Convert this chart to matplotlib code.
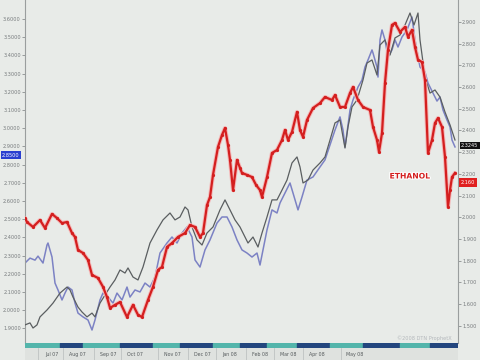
import numpy as np
import matplotlib
matplotlib.use("Agg")
import matplotlib.pyplot as plt
import matplotlib.transforms as mtransforms
import matplotlib.patheffects as pe
from matplotlib.ticker import FormatStrFormatter

# days since start of chart (approx 1 px per day)
red_x = [0, 2, 8, 15, 20, 27, 32, 37, 42, 47, 50, 53, 58, 63, 67, 73, 78, 82, 85, 90,
         95, 102, 108, 113, 117, 123, 128, 133, 137, 142, 147, 153, 160, 165, 170, 175,
         178, 182, 185, 188, 193, 197, 200, 203, 205, 208, 212, 215, 217, 222, 227, 231,
         235, 237, 242, 247, 252, 257, 260, 263, 267, 272, 275, 278, 282, 288, 295, 300,
         307, 310, 315, 320, 325, 328, 333, 338, 345, 348, 352, 354, 357, 360, 363, 367,
         370, 375, 380, 383, 387, 390, 393, 397, 400, 403, 407, 410, 413, 417, 420, 423,
         425, 427, 430]
red_y = [1.996, 1.978, 1.955, 1.987, 1.950, 2.015, 1.996, 1.973, 1.978, 1.927, 1.909,
         1.849, 1.835, 1.803, 1.734, 1.720, 1.679, 1.632, 1.582, 1.596, 1.609, 1.540,
         1.596, 1.550, 1.540, 1.619, 1.679, 1.757, 1.771, 1.863, 1.881, 1.909, 1.927,
         1.964, 1.955, 1.909, 1.927, 2.056, 2.093, 2.195, 2.324, 2.379, 2.411, 2.333,
         2.264, 2.125, 2.264, 2.227, 2.204, 2.195, 2.185, 2.149, 2.125, 2.093, 2.185,
         2.296, 2.310, 2.356, 2.402, 2.356, 2.393, 2.485, 2.402, 2.370, 2.448, 2.503,
         2.526, 2.554, 2.540, 2.563, 2.508, 2.508, 2.572, 2.600, 2.540, 2.508, 2.494,
         2.416, 2.356, 2.301, 2.388, 2.619, 2.771, 2.886, 2.895, 2.854, 2.877, 2.831,
         2.863, 2.784, 2.725, 2.715, 2.632, 2.296, 2.356, 2.434, 2.457, 2.416, 2.278,
         2.047, 2.125, 2.185, 2.204]

black_x = [0, 5, 8, 12, 15, 22, 28, 35, 42, 45, 48, 53, 57, 62, 67, 70, 75, 80, 85, 90,
           95, 100, 103, 108, 113, 118, 125, 132, 138, 145, 150, 155, 160, 163, 167, 172,
           177, 182, 188, 195, 200, 205, 210, 215, 220, 223, 228, 233, 237, 242, 247, 252,
           257, 262, 267, 272, 275, 278, 283, 288, 295, 300, 305, 310, 315, 318, 320, 323,
           327, 332, 338, 342, 347, 352, 355, 360, 365, 370, 375, 380, 385, 389, 393, 395,
           400, 405, 410, 415, 420, 425, 430]
black_y = [1.919, 1.930, 1.902, 1.919, 1.963, 2.001, 2.039, 2.094, 2.127, 2.111, 2.072,
           2.017, 1.990, 1.963, 1.984, 1.963, 2.039, 2.083, 2.127, 2.166, 2.221, 2.204,
           2.232, 2.182, 2.166, 2.237, 2.369, 2.441, 2.496, 2.534, 2.496, 2.512, 2.567,
           2.551, 2.457, 2.386, 2.358, 2.424, 2.457, 2.551, 2.606, 2.551, 2.496, 2.457,
           2.402, 2.369, 2.402, 2.347, 2.424, 2.512, 2.606, 2.606, 2.660, 2.715, 2.809,
           2.842, 2.787, 2.699, 2.715, 2.770, 2.809, 2.842, 2.935, 3.029, 3.045, 2.952,
           2.891, 3.007, 3.117, 3.155, 3.265, 3.358, 3.375, 3.292, 3.457, 3.485, 3.402,
           3.496, 3.512, 3.567, 3.633, 3.567, 3.633, 3.485, 3.281, 3.193, 3.210, 3.171,
           3.089, 3.018, 2.935]

blue_x = [0, 5, 10, 13, 18, 22, 23, 27, 30, 33, 37, 40, 43, 47, 50, 53, 58, 63, 67, 70,
          75, 78, 83, 88, 92, 97, 102, 105, 110, 115, 120, 125, 130, 135, 142, 147, 152,
          157, 162, 167, 170, 175, 180, 185, 192, 197, 202, 207, 212, 217, 222, 227, 232,
          235, 238, 242, 247, 252, 255, 260, 265, 268, 273, 277, 282, 288, 295, 300, 305,
          310, 315, 318, 320, 322, 325, 328, 333, 337, 340, 343, 347, 348, 352, 353, 355,
          357, 360, 363, 367, 370, 373, 377, 382, 387, 390, 395, 400, 403, 408, 412, 415,
          418, 422, 425, 427, 430]
blue_y = [2.259, 2.286, 2.275, 2.297, 2.259, 2.358, 2.369, 2.292, 2.149, 2.111, 2.056,
          2.094, 2.127, 2.111, 2.039, 1.984, 1.963, 1.946, 1.891, 1.946, 2.056, 2.094,
          2.072, 2.039, 2.094, 2.056, 2.127, 2.072, 2.111, 2.100, 2.149, 2.127, 2.182,
          2.314, 2.369, 2.402, 2.369, 2.424, 2.457, 2.402, 2.276, 2.237, 2.331, 2.386,
          2.479, 2.512, 2.512, 2.457, 2.386, 2.331, 2.314, 2.292, 2.314, 2.248, 2.331,
          2.441, 2.551, 2.534, 2.589, 2.644, 2.699, 2.644, 2.551, 2.622, 2.715, 2.732,
          2.787, 2.826, 2.908, 2.990, 3.062, 2.990, 2.897, 2.974, 3.100, 3.155, 3.226,
          3.265, 3.336, 3.375, 3.430, 3.413, 3.336, 3.281, 3.485, 3.540, 3.485, 3.391,
          3.430, 3.485, 3.446, 3.501, 3.540, 3.611, 3.485, 3.336, 3.309, 3.248, 3.193,
          3.149, 3.171, 3.100, 3.045, 3.007, 2.935, 2.897]

month_names = ["Jul 07", "Aug 07", "Sep 07", "Oct 07", "Nov 07", "Dec 07", "Jan 08",
               "Feb 08", "Mar 08", "Apr 08", "May 08"]
month_days = [27, 52, 83, 110, 147, 177, 205, 235, 263, 292, 330]
band_edges = [0, 35, 58, 95, 128, 155, 188, 215, 242, 272, 305, 338, 375, 405, 433]

bg = "#e8ebe8"
fig = plt.figure(figsize=(4.8, 3.6), dpi=100, facecolor=bg)

ax = fig.add_axes([25 / 480, 17 / 360, 433 / 480, 343 / 360], facecolor=bg)
ax2 = ax.twinx()

ax.plot(blue_x, blue_y, color="#7c82c4", lw=1.1, zorder=2)
ax.plot(black_x, black_y, color="#5a5e60", lw=0.9, zorder=3)
ax2.plot(red_x, red_y, color="#f4b8b8", lw=3.0, zorder=1, solid_capstyle="round")
ax2.plot(red_x, red_y, color="#d41f1f", lw=1.6, zorder=2, marker="o", ms=1.3)

ax.set_xlim(0, 433)
ax.set_ylim(1.8196, 3.7044)
ax2.set_ylim(1.4204, 3.001)
ax.set_xticks([])

ax.set_yticks(np.arange(1.9, 3.61, 0.1))
ax.yaxis.set_major_formatter(FormatStrFormatter("%.4f"))
ax2.set_yticks(np.arange(1.5, 2.91, 0.1))
ax2.yaxis.set_major_formatter(FormatStrFormatter("%.3f"))
for a in (ax, ax2):
    a.tick_params(axis="y", labelsize=3.6, colors="#777b7d", length=2, width=0.5, pad=1)
    for s in a.spines.values():
        s.set_visible(False)
ax.spines["left"].set_visible(True)
ax.spines["left"].set_color("#9a9e9e")
ax2.spines["right"].set_visible(True)
ax2.spines["right"].set_color("#9a9e9e")

# current value boxes
ax.text(2 / 480, 2.85, "2.8500", transform=mtransforms.blended_transform_factory(fig.transFigure, ax.transData),
        fontsize=3.6, color="white", va="center", ha="left",
        bbox=dict(boxstyle="square,pad=0.3", fc="#2a3fd0", ec="none"))
ax2.text(461 / 480, 2.33, "2.3245", transform=mtransforms.blended_transform_factory(fig.transFigure, ax2.transData),
         fontsize=3.6, color="white", va="center", ha="left",
         bbox=dict(boxstyle="square,pad=0.25", fc="#111111", ec="none"))
ax2.text(461 / 480, 2.16, "2.160", transform=mtransforms.blended_transform_factory(fig.transFigure, ax2.transData),
         fontsize=3.6, color="white", va="center", ha="left",
         bbox=dict(boxstyle="square,pad=0.35", fc="#e02020", ec="none"))

ax2.text(385, 2.19, "ETHANOL", color="#d41f1f", fontsize=5.5, fontweight="bold",
         ha="center", va="center",
         path_effects=[pe.withStroke(linewidth=1.5, foreground="white")])

fig.text(452 / 480, 1 - 338 / 360, "\u00a92008 DTN ProphetX", fontsize=3.6,
         color="#b4b8bc", ha="right", va="center")

# month colour band
band = fig.add_axes([25 / 480, 12 / 360, 433 / 480, 5 / 360])
for i in range(len(band_edges) - 1):
    band.axvspan(band_edges[i], band_edges[i + 1],
                 color="#53b5ab" if i % 2 == 0 else "#23467e")
band.set_xlim(0, 433)
band.axis("off")

# month labels strip
strip = fig.add_axes([25 / 480, 0, 433 / 480, 12 / 360], facecolor="#dfe2df")
strip.set_xlim(0, 433)
strip.set_ylim(0, 1)
for d, m in zip(month_days, month_names):
    strip.text(d, 0.45, m, fontsize=3.4, color="#555a5c", ha="center", va="center")
    strip.axvline(d - 14, color="#b8bcbc", lw=0.5)
strip.set_xticks([])
strip.set_yticks([])
for s in strip.spines.values():
    s.set_visible(False)

fig.savefig("out.png", dpi=100, facecolor=bg)
